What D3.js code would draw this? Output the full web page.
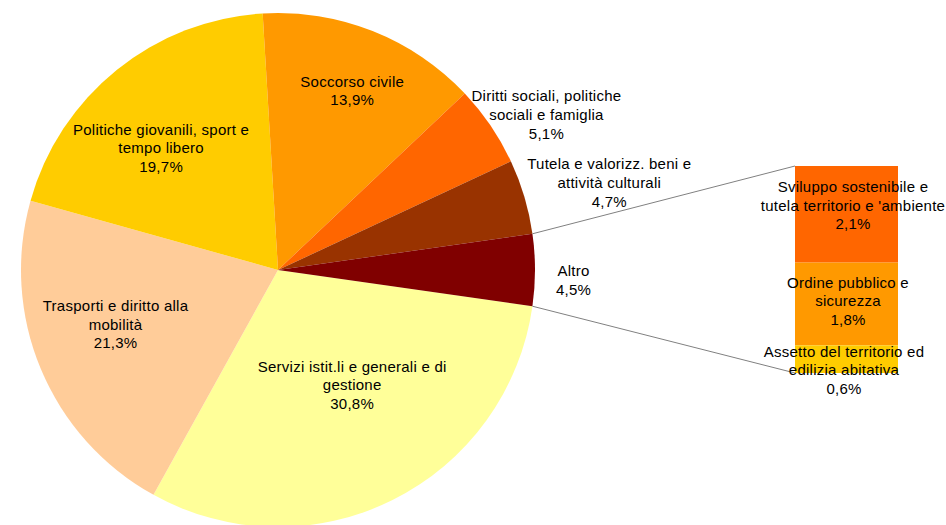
<!DOCTYPE html>
<html>
<head>
<meta charset="utf-8">
<script src="https://cdn.jsdelivr.net/npm/d3@7"></script>
<style>
  html, body { margin: 0; padding: 0; background: #fff; }
  svg { display: block; }
  text { font-family: "Liberation Sans", Arial, sans-serif; font-size: 15px; fill: #000; letter-spacing: 0.25px; }
</style>
</head>
<body>
<svg id="chart" width="946" height="525"></svg>
<script>
// Spending shares by function (%), pie slices in drawing order (clockwise)
const pieCategories = [
  "Servizi istit.li e generali e di gestione",
  "Trasporti e diritto alla mobilità",
  "Politiche giovanili, sport e tempo libero",
  "Soccorso civile",
  "Diritti sociali, politiche sociali e famiglia",
  "Tutela e valorizz. beni e attività culturali",
  "Altro"
];
const pieValues = [30.8, 21.3, 19.7, 13.9, 5.1, 4.7, 4.5];
const pieLabelLines = [
  ["Servizi istit.li e generali e di", "gestione"],
  ["Trasporti e diritto alla", "mobilità"],
  ["Politiche giovanili, sport e", "tempo libero"],
  ["Soccorso civile"],
  ["Diritti sociali, politiche", "sociali e famiglia"],
  ["Tutela e valorizz. beni e", "attività culturali"],
  ["Altro"]
];
const pieColors = ["#FFFF99", "#FFCC99", "#FFCC00", "#FF9900", "#FF6600", "#993300", "#800000"];

// Breakdown of "Altro", stacked from top to bottom
const barCategories = [
  "Sviluppo sostenibile e tutela territorio e 'ambiente",
  "Ordine pubblico e sicurezza",
  "Assetto del territorio ed edilizia abitativa"
];
const barValues = [2.1, 1.8, 0.6];
const barLabelLines = [
  ["Sviluppo sostenibile e", "tutela territorio e 'ambiente"],
  ["Ordine pubblico e", "sicurezza"],
  ["Assetto del territorio ed", "edilizia abitativa"]
];
const barColors = ["#FF6600", "#FF9900", "#FFCC00"];

const it = d3.formatLocale({ decimal: ",", thousands: ".", grouping: [3], currency: ["€", ""] });
const pct = v => it.format(".1f")(v) + "%";

const svg = d3.select("#chart");
const cx = 278, cy = 270, R = 257;
const lineH = 18.7;

// the "Altro" slice is centred on the 3 o'clock direction
const total = d3.sum(pieValues);
const otherIdx = pieValues.length - 1;
const otherHalf = (pieValues[otherIdx] / total) * Math.PI; // half of its angle
const start = Math.PI / 2 + otherHalf;

const pie = d3.pie().sort(null).value(d => d)
  .startAngle(start).endAngle(start + 2 * Math.PI);
const arcs = pie(pieValues);
const arc = d3.arc().innerRadius(0).outerRadius(R);

const g = svg.append("g").attr("transform", `translate(${cx},${cy})`);
g.selectAll("path.slice")
  .data(arcs)
  .join("path")
  .attr("class", "slice")
  .attr("d", arc)
  .attr("fill", (d, i) => pieColors[i]);

// label placement: inner labels for large slices, outer for small ones
const innerArc = d3.arc().innerRadius(R * 0.7).outerRadius(R * 0.7);
const outerArc = d3.arc().innerRadius(R * 1.15).outerRadius(R * 1.15);
const labelNudge = [[-6, -46], [3.5, -15], [-4, 18], [8, -12], [24, 11], [48, -3], [0, 10.5]];

arcs.forEach((a, i) => {
  const base = (a.value >= 10 ? innerArc : outerArc).centroid(a);
  const x = base[0] + labelNudge[i][0];
  const y = base[1] + labelNudge[i][1];
  const lines = pieLabelLines[i].concat([pct(a.value)]);
  const t = g.append("text").attr("text-anchor", "middle");
  lines.forEach((s, k) => {
    t.append("tspan")
      .attr("x", x)
      .attr("y", y + (k - (lines.length - 1) / 2) * lineH)
      .attr("dy", "0.35em")
      .text(s);
  });
});

// stacked bar for the "Altro" breakdown
const barX = 795, barW = 103;
const yBar = d3.scaleLinear().domain([0, d3.sum(barValues)]).range([166, 373]);
const stackTops = d3.cumsum([0].concat(barValues.slice(0, -1)));

// connector lines from the edges of "Altro" to the bar
const otherArc = arcs[otherIdx];
const edgePt = ang => [cx + R * Math.sin(ang), cy - R * Math.cos(ang)];
const pTop = edgePt(otherArc.startAngle);
const pBot = edgePt(otherArc.endAngle);
svg.append("line")
  .attr("x1", pTop[0]).attr("y1", pTop[1])
  .attr("x2", barX).attr("y2", yBar(0))
  .attr("stroke", "#808080").attr("stroke-width", 1);
svg.append("line")
  .attr("x1", pBot[0]).attr("y1", pBot[1])
  .attr("x2", barX).attr("y2", yBar(d3.sum(barValues)))
  .attr("stroke", "#808080").attr("stroke-width", 1);

svg.selectAll("rect.seg")
  .data(barValues)
  .join("rect")
  .attr("class", "seg")
  .attr("x", barX)
  .attr("width", barW)
  .attr("y", (d, i) => yBar(stackTops[i]))
  .attr("height", d => yBar(d) - yBar(0))
  .attr("fill", (d, i) => barColors[i]);

const barNudge = [[6.5, -9], [1.5, -3], [-2.5, 11]];
barValues.forEach((v, i) => {
  const x = barX + barW / 2 + barNudge[i][0];
  const y = (yBar(stackTops[i]) + yBar(stackTops[i] + v)) / 2 + barNudge[i][1];
  const lines = barLabelLines[i].concat([pct(v)]);
  const t = svg.append("text").attr("text-anchor", "middle");
  lines.forEach((s, k) => {
    t.append("tspan")
      .attr("x", x)
      .attr("y", y + (k - (lines.length - 1) / 2) * lineH)
      .attr("dy", "0.35em")
      .text(s);
  });
});
</script>
</body>
</html>
